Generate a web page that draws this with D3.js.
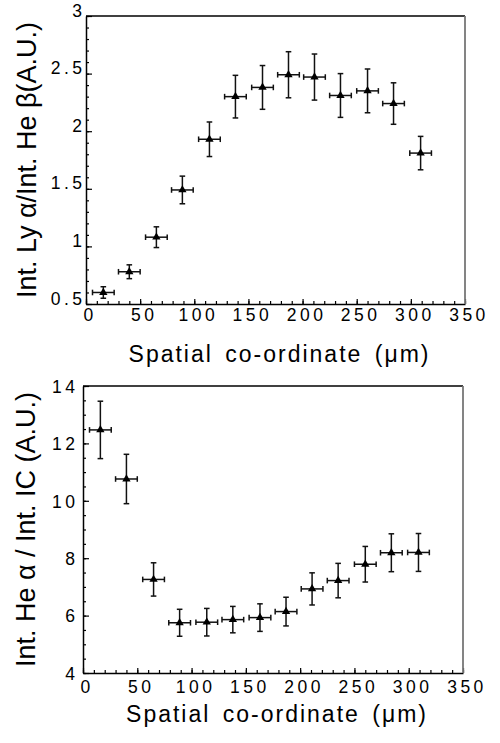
<!DOCTYPE html>
<html>
<head>
<meta charset="utf-8">
<script src="https://cdn.jsdelivr.net/npm/d3@7"></script>
<style>
  body { margin: 0; background: #fff; }
  svg { display: block; font-family: "Liberation Sans", Arial, sans-serif; }
</style>
</head>
<body>
<svg id="chart"></svg>
<script>
const width = 500;
const height = 743;

// spatial positions (um) of the 13 measurements
const position = [16, 40, 65, 89, 114, 138, 163, 187, 211, 235, 260, 284, 309];
const posErr = 10;

// top panel : Int. Ly alpha / Int. He beta
const ratioLyHe = [0.60, 0.78, 1.08, 1.49, 1.93, 2.30, 2.38, 2.49, 2.47, 2.31, 2.35, 2.24, 1.81];
const errLyHe = [0.05, 0.06, 0.09, 0.12, 0.15, 0.185, 0.19, 0.20, 0.20, 0.19, 0.19, 0.18, 0.145];

// bottom panel : Int. He alpha / Int. IC
const ratioHeIC = [12.47, 10.76, 7.26, 5.75, 5.77, 5.86, 5.93, 6.14, 6.93, 7.22, 7.79, 8.19, 8.20];
const errHeIC = [1.00, 0.86, 0.58, 0.47, 0.48, 0.46, 0.48, 0.50, 0.56, 0.60, 0.62, 0.66, 0.66];

const xTicks = [0, 50, 100, 150, 200, 250, 300, 350];
const yTicksTop = [0.5, 1, 1.5, 2, 2.5, 3];
const yTicksBottom = [4, 6, 8, 10, 12, 14];

const xTitle = "Spatial co-ordinate (μm)";

const svg = d3.select("#chart")
    .attr("width", width)
    .attr("height", height)
    .attr("viewBox", [0, 0, width, height]);

function panel(cfg) {
    const {box, yDomain, yTicks, yMinorStep, values, errors, yTitle, yTitleX, xTitleY, yLabelDy, xLabelPad} = cfg;

    const x = d3.scaleLinear().domain([0, 350]).range([box.left, box.right]);
    const y = d3.scaleLinear().domain(yDomain).range([box.bottom, box.top]);

    const g = svg.append("g");

    // minor ticks
    g.append("g")
        .attr("transform", `translate(0,${box.bottom})`)
        .call(d3.axisBottom(x).tickValues(d3.range(0, 351, 10)).tickSizeInner(-3).tickSizeOuter(0).tickFormat(""))
        .call(a => a.select(".domain").remove());
    g.append("g")
        .attr("transform", `translate(${box.left},0)`)
        .call(d3.axisLeft(y).tickValues(d3.range(yDomain[0], yDomain[1] + 1e-9, yMinorStep)).tickSizeInner(-3).tickSizeOuter(0).tickFormat(""))
        .call(a => a.select(".domain").remove());

    // major axes
    const xAxis = g.append("g")
        .attr("transform", `translate(0,${box.bottom})`)
        .call(d3.axisBottom(x).tickValues(xTicks).tickSizeInner(-5).tickSizeOuter(0).tickPadding(xLabelPad).tickFormat(d3.format("d")));
    xAxis.selectAll("text")
        .attr("font-size", 17.5)
        .attr("letter-spacing", 3.5)
        .attr("dx", 3.5)
        .attr("fill", "#000");

    const yAxis = g.append("g")
        .attr("transform", `translate(${box.left},0)`)
        .call(d3.axisLeft(y).tickValues(yTicks).tickSizeInner(-6).tickSizeOuter(0).tickPadding(cfg.yLabelPad).tickFormat(d => d));
    yAxis.selectAll("text")
        .attr("font-size", 17.5)
        .attr("letter-spacing", 3.5)
        .attr("dx", 3.5)
        .attr("dy", yLabelDy)
        .attr("fill", "#000");

    g.selectAll(".domain").attr("stroke", "#000").attr("stroke-width", 1.5);
    g.selectAll(".tick line").attr("stroke", "#000").attr("stroke-width", 1.2);

    // frame top and right
    g.append("line")
        .attr("x1", box.left).attr("x2", box.right)
        .attr("y1", box.top).attr("y2", box.top)
        .attr("stroke", "#000").attr("stroke-width", 1.5);
    g.append("line")
        .attr("x1", box.right).attr("x2", box.right)
        .attr("y1", box.top).attr("y2", box.bottom)
        .attr("stroke", "#777").attr("stroke-width", 1.8);

    // data
    const pts = values.map((v, i) => ({px: position[i], v, e: errors[i]}));
    const cap = 2.8;
    const pg = g.append("g").attr("stroke", "#111").attr("stroke-width", 1.5).attr("fill", "none");
    const item = pg.selectAll("g").data(pts).join("g");
    item.append("line")
        .attr("x1", d => x(d.px)).attr("x2", d => x(d.px))
        .attr("y1", d => y(d.v - d.e)).attr("y2", d => y(d.v + d.e));
    item.append("line")
        .attr("x1", d => x(d.px) - cap).attr("x2", d => x(d.px) + cap)
        .attr("y1", d => y(d.v - d.e)).attr("y2", d => y(d.v - d.e));
    item.append("line")
        .attr("x1", d => x(d.px) - cap).attr("x2", d => x(d.px) + cap)
        .attr("y1", d => y(d.v + d.e)).attr("y2", d => y(d.v + d.e));
    item.append("line")
        .attr("x1", d => x(d.px - posErr)).attr("x2", d => x(d.px + posErr))
        .attr("y1", d => y(d.v)).attr("y2", d => y(d.v));
    item.append("line")
        .attr("x1", d => x(d.px - posErr)).attr("x2", d => x(d.px - posErr))
        .attr("y1", d => y(d.v) - cap).attr("y2", d => y(d.v) + cap);
    item.append("line")
        .attr("x1", d => x(d.px + posErr)).attr("x2", d => x(d.px + posErr))
        .attr("y1", d => y(d.v) - cap).attr("y2", d => y(d.v) + cap);

    g.append("g").selectAll("path").data(pts).join("path")
        .attr("d", d3.symbol(d3.symbolTriangle, 30))
        .attr("transform", d => `translate(${x(d.px)},${y(d.v)})`)
        .attr("fill", "#000");

    // titles
    g.append("text")
        .attr("x", (box.left + box.right) / 2 + 4)
        .attr("y", xTitleY)
        .attr("text-anchor", "middle")
        .attr("font-size", 23)
        .attr("letter-spacing", 2)
        .attr("word-spacing", 4)
        .attr("fill", "#000")
        .text(xTitle);

    g.append("text")
        .attr("transform", `translate(${yTitleX},${(box.top + box.bottom) / 2}) rotate(-90)`)
        .attr("text-anchor", "middle")
        .attr("font-size", 27)
        .attr("fill", "#000")
        .text(yTitle);
}

panel({
    box: {left: 86, right: 465, top: 16, bottom: 304},
    yDomain: [0.5, 3], yTicks: yTicksTop, yMinorStep: 0.1,
    values: ratioLyHe, errors: errLyHe,
    yTitle: "Int. Ly α/Int. He β(A.U.)", yTitleX: 36, xTitleY: 362,
    yLabelDy: "0", yLabelPad: 4, xLabelPad: 5
});

panel({
    box: {left: 83, right: 463, top: 386, bottom: 673},
    yDomain: [4, 14], yTicks: yTicksBottom, yMinorStep: 0.5,
    values: ratioHeIC, errors: errHeIC,
    yTitle: "Int. He α / Int. IC (A.U.)", yTitleX: 35, xTitleY: 722,
    yLabelDy: "0.36em", yLabelPad: 8, xLabelPad: 8
});
</script>
</body>
</html>
